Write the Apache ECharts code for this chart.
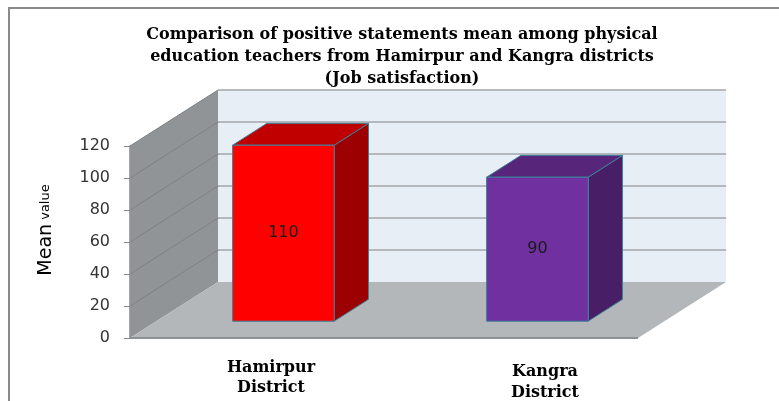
<!DOCTYPE html>
<html>
<head>
<meta charset="utf-8">
<script src="https://cdn.jsdelivr.net/npm/echarts@6/dist/echarts.min.js"></script>
<style>
  html, body { margin: 0; padding: 0; background: #ffffff; }
  #chart { width: 779px; height: 401px; }
</style>
</head>
<body>
<div id="chart"></div>
<script>
// ---- data ----
const categories = ['Hamirpur\nDistrict', 'Kangra\nDistrict'];
const meanValues = [110, 90];
const yTickValues = [0, 20, 40, 60, 80, 100, 120];
const titleLines = [
  'Comparison of positive statements mean among physical',
  'education teachers from Hamirpur and Kangra districts',
  '(Job satisfaction)'
];

// ---- styles / layout constants ----
const DEPTH_DX = 88, DEPTH_DY = -56;   // 3D depth projection
const BAR_F0 = 0.30, BAR_F1 = 0.69;    // bar depth range (fraction of full depth)
const BAR_W = 0.40;                    // fraction of category band
const barPalettes = [
  { front: '#ff0000', side: '#9c0000', top: '#c00000' },
  { front: '#7030a0', side: '#481e66', top: '#572579' }
];
const edgeColor = '#3c8097';

const chart = echarts.init(document.getElementById('chart'), null, { renderer: 'canvas' });

function wallsRender(params, api) {
  const cs = params.coordSys;
  const x0 = cs.x, x1 = cs.x + cs.width;
  const yB = api.coord([0, yTickValues[0]])[1];
  const yT = api.coord([0, yTickValues[yTickValues.length - 1]])[1];
  const bx0 = x0 + DEPTH_DX, bx1 = x1 + DEPTH_DX;
  const children = [];
  // back wall
  children.push({ type: 'rect', shape: { x: bx0, y: yT + DEPTH_DY, width: bx1 - bx0, height: yB - yT },
    style: { fill: '#e7eef5' } });
  // side wall
  children.push({ type: 'polygon', shape: { points: [[x0, yT], [bx0, yT + DEPTH_DY], [bx0, yB + DEPTH_DY], [x0, yB]] },
    style: { fill: '#909496' } });
  // gridlines
  yTickValues.forEach(function (v) {
    const y = api.coord([0, v])[1];
    if (v > 0) {
      children.push({ type: 'line', shape: { x1: bx0, y1: y + DEPTH_DY, x2: bx1, y2: y + DEPTH_DY },
        style: { stroke: '#a3a5a7', lineWidth: 1.5 } });
      children.push({ type: 'line', shape: { x1: x0, y1: y, x2: bx0, y2: y + DEPTH_DY },
        style: { stroke: '#7d8183', lineWidth: 1 } });
    }
  });
  // floor
  children.push({ type: 'polygon', shape: { points: [[x0, yB], [x1, yB], [bx1, yB + DEPTH_DY], [bx0, yB + DEPTH_DY]] },
    style: { fill: '#b3b7ba' } });
  children.push({ type: 'line', shape: { x1: x0, y1: yB, x2: x1, y2: yB },
    style: { stroke: '#8e9092', lineWidth: 2 } });
  return { type: 'group', children: children };
}

function barRender(params, api) {
  const idx = api.value(0);
  const val = api.value(1);
  const base = api.coord([idx, 0]);
  const topP = api.coord([idx, val]);
  const band = api.size([1, 0])[0];
  const w = band * BAR_W;
  const ox = BAR_F0 * DEPTH_DX, oy = BAR_F0 * DEPTH_DY;
  const dx = (BAR_F1 - BAR_F0) * DEPTH_DX, dy = (BAR_F1 - BAR_F0) * DEPTH_DY;
  const xl = base[0] - w / 2 + ox, xr = base[0] + w / 2 + ox;
  const yb = base[1] + oy, yt = topP[1] + oy;
  const pal = barPalettes[params.dataIndex % barPalettes.length];
  const st = { stroke: edgeColor, lineWidth: 1 };
  return {
    type: 'group',
    children: [
      { type: 'polygon', shape: { points: [[xr, yb], [xr + dx, yb + dy], [xr + dx, yt + dy], [xr, yt]] },
        style: Object.assign({ fill: pal.side }, st) },
      { type: 'polygon', shape: { points: [[xl, yt], [xr, yt], [xr + dx, yt + dy], [xl + dx, yt + dy]] },
        style: Object.assign({ fill: pal.top }, st) },
      { type: 'rect', shape: { x: xl, y: yt, width: xr - xl, height: yb - yt },
        style: Object.assign({ fill: pal.front }, st) },
      { type: 'text', style: { x: (xl + xr) / 2, y: (yt + yb) / 2, text: String(val),
          align: 'center', verticalAlign: 'middle', fill: '#1a1a1a',
          font: '16px "DejaVu Sans", sans-serif' } }
    ]
  };
}

const option = {
  backgroundColor: '#ffffff',
  animation: false,
  title: {
    text: titleLines.join('\n'),
    left: 397, top: 19, textAlign: 'center',
    textStyle: { fontFamily: '"DejaVu Serif", serif', fontWeight: 'bold', fontSize: 16, lineHeight: 22, color: '#000' }
  },
  graphic: [
    { type: 'rect', shape: { x: 9, y: 8, width: 950, height: 500 }, style: { fill: 'none', stroke: '#8a8a8a', lineWidth: 2 }, z: -10 },
    { type: 'text', x: 46, y: 230, rotation: Math.PI / 2,
      style: { text: '{m|Mean}{v| value}', align: 'center', verticalAlign: 'middle',
        rich: { m: { fontFamily: '"DejaVu Sans", sans-serif', fontSize: 19, fill: '#000' },
                v: { fontFamily: '"DejaVu Sans", sans-serif', fontSize: 13, fill: '#000' } } } }
  ],
  grid: { left: 130, right: 141, top: 146, bottom: 60 },
  xAxis: {
    type: 'category', data: categories,
    axisLine: { show: false }, axisTick: { show: false },
    axisLabel: {
      margin: 20, interval: 0,
      formatter: function (v, i) {
        const parts = v.split('\n');
        const k = i === 0 ? 'a' : 'b';
        return parts.map(function (p) { return '{' + k + '|' + p + '}'; }).join('\n');
      },
      rich: {
        a: { fontFamily: '"DejaVu Serif", serif', fontWeight: 'bold', fontSize: 16, lineHeight: 20, color: '#000', padding: [0, 0, 0, 28] },
        b: { fontFamily: '"DejaVu Serif", serif', fontWeight: 'bold', fontSize: 16, lineHeight: 21, color: '#000', padding: [7, 0, 0, 68] }
      }
    }
  },
  yAxis: {
    type: 'value', min: 0, max: 120, interval: 20,
    axisLine: { show: true, lineStyle: { color: '#868686', width: 1.5 } },
    axisTick: { show: true, length: 6, lineStyle: { color: '#868686' } },
    splitLine: { show: false },
    axisLabel: { margin: 20, fontSize: 16, color: '#333', fontFamily: '"DejaVu Sans", sans-serif' }
  },
  series: [
    { type: 'custom', renderItem: wallsRender, data: [[0, 0]], clip: false, silent: true, z: 1 },
    { type: 'custom', renderItem: barRender, data: meanValues.map(function (v, i) { return [i, v]; }),
      encode: { x: 0, y: 1 }, clip: false, z: 2 }
  ]
};
chart.setOption(option);
</script>
</body>
</html>
